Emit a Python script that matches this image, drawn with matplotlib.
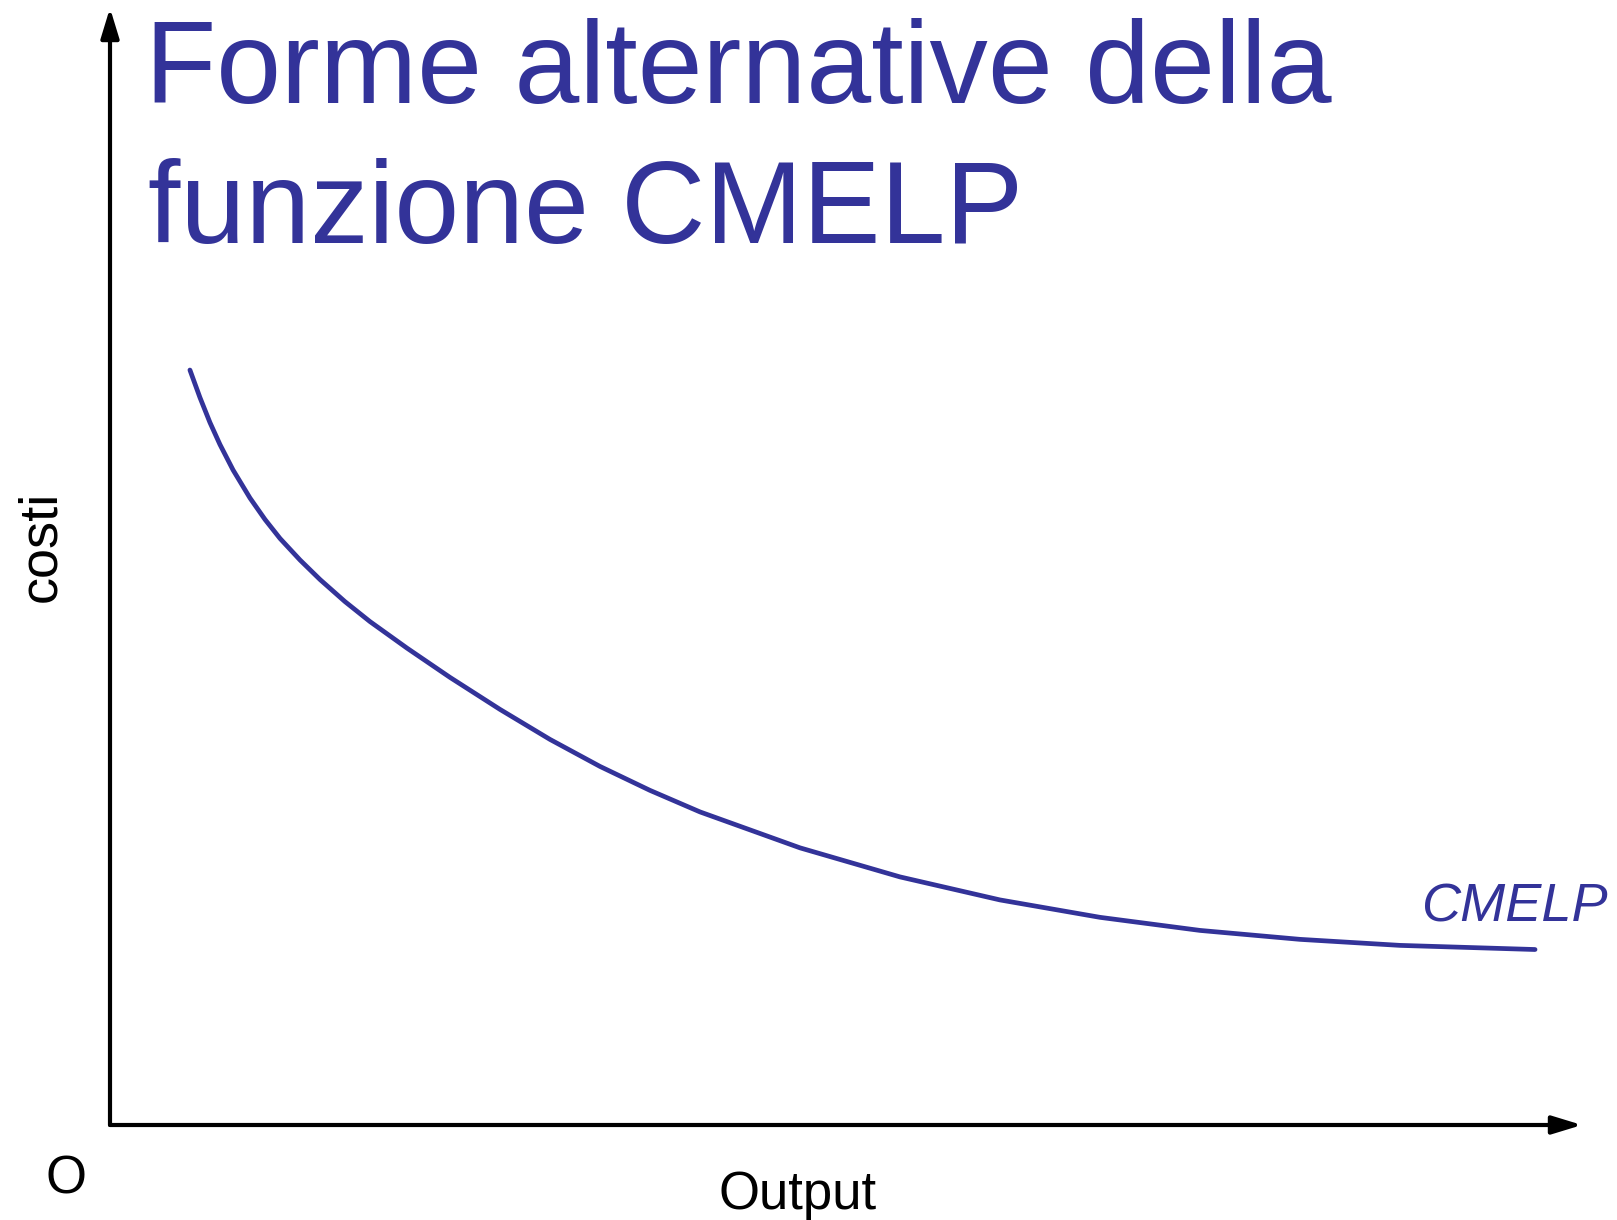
import matplotlib
matplotlib.use('Agg')
import matplotlib.pyplot as plt

# -------------------- Data --------------------

# Output level and long-run average cost (CMELP)
output_q = [5.43, 6.11, 6.79, 7.47, 8.36, 9.51, 10.53, 11.55, 12.91, 14.27,
            15.96, 17.66, 20.18, 23.10, 26.49, 29.89, 33.29, 36.68, 40.08,
            46.88, 53.67, 60.46, 67.26, 74.05, 80.84, 87.64, 96.81]
cmelp = [67.59, 65.13, 62.89, 60.92, 58.64, 56.13, 54.21, 52.51, 50.58, 48.83,
         46.86, 45.07, 42.69, 40.07, 37.21, 34.52, 32.10, 29.96, 28.03,
         24.81, 22.21, 20.15, 18.59, 17.42, 16.62, 16.08, 15.71]

title_lines = ['Forme alternative della', 'funzione CMELP']
curve_label = 'CMELP'
x_label = 'Output'
y_label = 'costi'
origin_label = 'O'

# -------------------- Figure --------------------

W, H = 1617, 1220
blue = '#333399'
plt.rcParams['font.family'] = ['Liberation Sans', 'DejaVu Sans']

fig = plt.figure(figsize=(W / 100, H / 100), dpi=100)
ax = fig.add_axes([110 / W, 95 / H, 1472 / W, 1117 / H])
ax.set_xlim(0, 100)
ax.set_ylim(0, 100)
ax.axis('off')

# axes drawn as arrows
arrow = dict(arrowstyle='-|>,head_length=1.8,head_width=0.55', color='black',
             lw=3, shrinkA=0, shrinkB=0, mutation_scale=10)
ax.annotate('', xy=(0, 100), xytext=(0, 0), arrowprops=arrow)
ax.annotate('', xy=(100, 0), xytext=(0, 0), arrowprops=arrow)

# cost curve
ax.plot(output_q, cmelp, color=blue, lw=3.4, solid_capstyle='round',
        solid_joinstyle='round')

# -------------------- Texts --------------------

fig.text(145 / W, 1 - 103 / H, title_lines[0], fontsize=84, color=blue, va='baseline')
fig.text(148 / W, 1 - 243 / H, title_lines[1], fontsize=84, color=blue, va='baseline')

fig.text(1421 / W, 1 - 921 / H, curve_label, fontsize=39, color=blue,
         style='italic', va='baseline')

fig.text(798 / W, 1 - 1209 / H, x_label, fontsize=38, ha='center', va='baseline')
fig.text(66 / W, 1 - 1194 / H, origin_label, fontsize=38, ha='center', va='baseline')
fig.text(55 / W, 1 - 546 / H, y_label, fontsize=39, rotation=90,
         rotation_mode='anchor', ha='center', va='baseline')

fig.savefig('out.png', dpi=100, facecolor='white')
